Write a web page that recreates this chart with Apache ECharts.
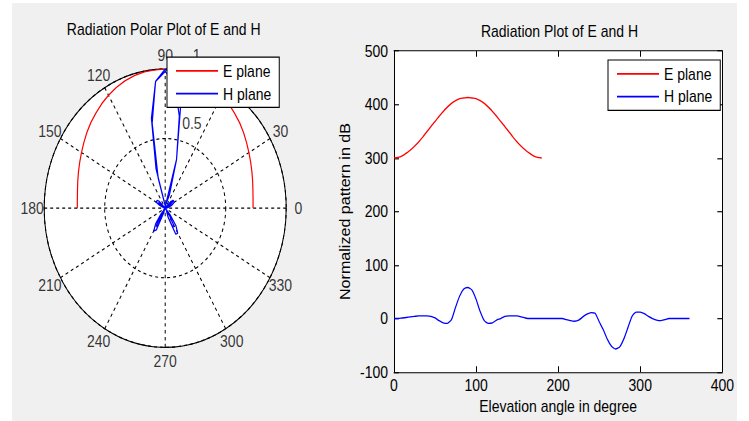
<!DOCTYPE html>
<html>
<head>
<meta charset="utf-8">
<script src="https://cdn.jsdelivr.net/npm/echarts@6/dist/echarts.min.js"></script>
<style>
  html, body { margin: 0; padding: 0; background: #fff; width: 749px; height: 421px; overflow: hidden; }
  /* grey figure window, the picture is squeezed horizontally so the plot is stretched in y */
  #frame { position: absolute; left: 12px; top: 3px; width: 725px; height: 418px; background: #f0f0f0; overflow: hidden; }
  #main { width: 725px; height: 363.5px; transform: scaleY(1.15); transform-origin: 0 0; }
</style>
</head>
<body>
<div id="frame"><div id="main"></div></div>
<script>
// elevation angles (deg)
const angles = [
  0, 5, 10, 15, 20, 25, 30, 35, 40, 45, 50, 55,
  60, 65, 70, 75, 80, 85, 90, 95, 100, 105, 110, 115,
  120, 125, 130, 135, 140, 145, 150, 155, 160, 165, 170, 175,
  180, 185, 190, 195, 200, 205, 210, 215, 220, 225, 230, 235,
  240, 245, 250, 255, 260, 265, 270, 275, 280, 285, 290, 295,
  300, 305, 310, 315, 320, 325, 330, 335, 340, 345, 350, 355,
  360
]
// E plane, 0..180 deg
const ePlane = [
  300, 301, 304, 309, 315, 322, 330, 339, 349, 359, 368, 378,
  387, 395, 402, 407, 411, 412, 413, 412, 411, 407, 402, 395,
  387, 378, 368, 359, 349, 339, 330, 322, 315, 309, 304, 301,
  300
]
// H plane, 0..360 deg
const hPlane = [
  0, 0, 1, 2, 3, 4, 5, 5, 5, 4, 1, -4,
  -8, -9, -2, 21, 42, 55, 58, 53, 36, 13, -4, -9,
  -8, -3, 0, 4, 5, 5, 5, 3, 1, 0, 0, 0,
  0, 0, 0, 0, 0, 0, -2, -4, -5, -3, 3, 8,
  11, 10, -6, -21, -39, -52, -57, -53, -38, -17, 4, 12,
  12, 9, 4, 0, -3, -4, -2, 0, 0, 0, 0, 0,
  0
]
// polar angle labels (60 sits under the legend box in the original, so it is not shown)
const angleTicks = [0, 30, 90, 120, 150, 180, 210, 240, 270, 300, 330]
const radialTicks = [0.5, 1]

const font = "'Liberation Sans', Arial, Helvetica, sans-serif"
const red = '#ff0000'
const blue = '#0000ff'

// polar plot uses the pattern normalised to 1, negative radius goes to the opposite side
function toPolar(vals) {
  const m = Math.max(...vals.map(Math.abs))
  return vals.map((v, i) => {
    const r = v / m
    return r < 0 ? [-r, angles[i] + 180] : [r, angles[i]]
  })
}

const polarCenter = [153.2, 178.4]
const polarRadius = 121

const legendBase = {
  orient: 'vertical',
  data: ['E plane', 'H plane'],
  icon: 'rect',
  itemWidth: 42,
  itemHeight: 1.4,
  itemGap: 5.8,
  padding: [5, 8, 5, 9],
  backgroundColor: '#fff',
  borderColor: '#000',
  borderWidth: 1,
  borderRadius: 0,
  selectedMode: false,
  textStyle: { fontSize: 14, color: '#000', fontFamily: font }
}

const myChart = echarts.init(document.getElementById('main'), null, { renderer: 'svg' })
myChart.setOption({
  animation: false,
  textStyle: { fontFamily: font, fontSize: 14, color: '#000' },
  title: [
    {
      text: 'Radiation Polar Plot of E and H',
      left: 151.7, top: 15.4, textAlign: 'center', padding: 0,
      textStyle: { fontSize: 14, fontWeight: 'normal', color: '#000', fontFamily: font }
    },
    {
      text: 'Radiation Plot of E and H',
      left: 547.5, top: 17.5, textAlign: 'center', padding: 0,
      textStyle: { fontSize: 14, fontWeight: 'normal', color: '#000', fontFamily: font }
    }
  ],
  legend: [
    Object.assign({ left: 155, top: 47 }, legendBase),
    Object.assign({ left: 596, top: 49.6 }, legendBase)
  ],
  polar: { center: polarCenter, radius: polarRadius },
  angleAxis: {
    type: 'value', min: 0, max: 360, interval: 30,
    startAngle: 0, clockwise: false,
    axisLine: { lineStyle: { color: '#000', width: 1 } },
    axisTick: { show: false },
    axisLabel: { show: false },
    splitLine: { show: true, lineStyle: { color: '#000', width: 1, type: [3, 3] } }
  },
  radiusAxis: {
    type: 'value', min: 0, max: 1, interval: 0.5,
    axisLine: { show: false },
    axisTick: { show: false },
    axisLabel: { show: false },
    splitLine: { show: true, lineStyle: { color: '#000', width: 1, type: [3, 3] } }
  },
  grid: {
    left: 382, top: 41.7, width: 334, height: 279.2,
    show: true, backgroundColor: '#fff', borderWidth: 0
  },
  xAxis: [
    {
      type: 'value', min: 0, max: 400, interval: 100, position: 'bottom',
      name: 'Elevation angle in degree', nameLocation: 'middle', nameGap: 23,
      nameTextStyle: { fontSize: 14, color: '#000' },
      axisLine: { onZero: false, lineStyle: { color: '#000' } },
      axisTick: { inside: true, length: 5, lineStyle: { color: '#000' } },
      axisLabel: { margin: 4, fontSize: 14, color: '#000' },
      splitLine: { show: false }
    },
    {
      type: 'value', min: 0, max: 400, interval: 100, position: 'top',
      axisLine: { onZero: false, lineStyle: { color: '#000' } },
      axisTick: { inside: true, length: 5, lineStyle: { color: '#000' } },
      axisLabel: { show: false },
      splitLine: { show: false }
    }
  ],
  yAxis: [
    {
      type: 'value', min: -100, max: 500, interval: 100, position: 'left',
      name: 'Normalized pattern in dB', nameLocation: 'middle', nameGap: 42,
      nameTextStyle: { fontSize: 14, color: '#000' },
      axisLine: { show: true, onZero: false, lineStyle: { color: '#000' } },
      axisTick: { show: true, inside: true, length: 5, lineStyle: { color: '#000' } },
      axisLabel: { margin: 6, fontSize: 14, color: '#000' },
      splitLine: { show: false }
    },
    {
      type: 'value', min: -100, max: 500, interval: 100, position: 'right',
      axisLine: { show: true, onZero: false, lineStyle: { color: '#000' } },
      axisTick: { show: true, inside: true, length: 5, lineStyle: { color: '#000' } },
      axisLabel: { show: false },
      splitLine: { show: false }
    }
  ],
  series: [
    // white disc behind the polar grid
    {
      type: 'pie', center: polarCenter, radius: [0, polarRadius],
      silent: true, z: -1, label: { show: false }, labelLine: { show: false },
      data: [{ value: 1, name: 'bg', itemStyle: { color: '#fff' } }]
    },
    {
      name: 'E plane', type: 'line', coordinateSystem: 'polar',
      data: toPolar(ePlane), symbol: 'none',
      lineStyle: { color: red, width: 1.2 }, itemStyle: { color: red }
    },
    {
      name: 'H plane', type: 'line', coordinateSystem: 'polar',
      data: toPolar(hPlane), symbol: 'none',
      lineStyle: { color: blue, width: 1.2 }, itemStyle: { color: blue }
    },
    // angle labels of the polar plot
    {
      type: 'scatter', coordinateSystem: 'polar', clip: false, silent: true,
      symbolSize: 1, itemStyle: { color: 'rgba(0,0,0,0)' },
      data: angleTicks.map(a => [1.1, a]),
      label: {
        show: true, position: 'inside', color: '#000', fontSize: 14,
        formatter: p => String(p.value[1])
      }
    },
    // radius labels
    {
      type: 'scatter', coordinateSystem: 'polar', clip: false, silent: true,
      symbolSize: 1, itemStyle: { color: 'rgba(0,0,0,0)' },
      data: radialTicks.map(r => [r, 80]),
      label: {
        show: true, position: 'right', distance: 0, offset: [6, -14],
        color: '#000', fontSize: 14,
        formatter: p => String(p.value[0])
      }
    },
    {
      name: 'E plane', type: 'line', xAxisIndex: 0, yAxisIndex: 0,
      data: ePlane.map((v, i) => [angles[i], v]), symbol: 'none', smooth: 0.2,
      lineStyle: { color: red, width: 1.2 }, itemStyle: { color: red }
    },
    {
      name: 'H plane', type: 'line', xAxisIndex: 0, yAxisIndex: 0,
      data: hPlane.map((v, i) => [angles[i], v]), symbol: 'none', smooth: 0.2,
      lineStyle: { color: blue, width: 1.2 }, itemStyle: { color: blue }
    }
  ]
})
</script>
</body>
</html>
